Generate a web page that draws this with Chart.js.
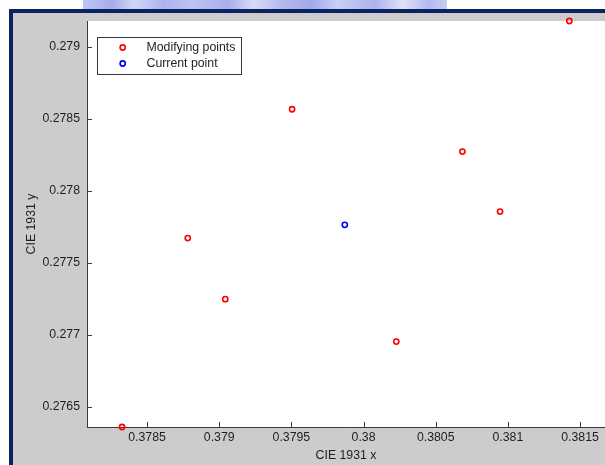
<!DOCTYPE html>
<html>
<head>
<meta charset="utf-8">
<script src="https://cdn.jsdelivr.net/npm/chart.js@4/dist/chart.umd.min.js"></script>
<style>
  html, body { margin: 0; padding: 0; background: #ffffff; overflow: hidden; }
  #stage { position: relative; width: 605px; height: 465px; overflow: hidden; }
  #band {
    position: absolute; left: 83px; top: 0; width: 364px; height: 9px;
    background: linear-gradient(90deg, #c0c6f2 0%, #a3adea 8%, #d2d7f7 14%, #abb4ed 22%, #bcc3f1 30%,
      #a7b0eb 40%, #d8dcf8 47%, #b0b8ee 55%, #a1abe9 63%, #cbd0f5 70%, #aab3ec 80%, #dfe2f9 88%, #b3baef 95%, #c8cdf4 100%);
    filter: blur(0.7px);
  }
  #frame {
    position: absolute; left: 9px; top: 9px; right: 0; bottom: 0;
    background: #cccccc; border-left: 4px solid #0b2362; border-top: 4px solid #0b2362;
  }
  canvas { position: absolute; left: 0; top: 0; }
</style>
</head>
<body>
<div id="stage">
  <div id="band"></div>
  <div id="frame"></div>
  <canvas id="c" width="605" height="465"></canvas>
</div>
<script>
// CIE 1931 chromaticity of the modifying points and the current point
const modifyingX = [0.378327, 0.378782, 0.379042, 0.379505, 0.380227, 0.380685, 0.380946, 0.381426];
const modifyingY = [0.276360, 0.277672, 0.277248, 0.278567, 0.276953, 0.278273, 0.277856, 0.279180];
const currentX = [0.379870];
const currentY = [0.277764];

const seriesNames = ['Modifying points', 'Current point'];
const xLimits = [0.378084, 0.381673];
const yLimits = [0.276360, 0.279180];
const tickStep = 0.0005;

const FONT = '"Liberation Sans", Arial, Helvetica, sans-serif';
const TEXT = '#1e1e1e';
const AXIS = '#3a3a3a';

const toPoints = (xs, ys) => xs.map((x, i) => ({ x, y: ys[i] }));

// white plot box behind the data
const plotBox = {
  id: 'plotBox',
  beforeDraw(chart) {
    const { ctx, chartArea: a } = chart;
    ctx.save();
    ctx.fillStyle = '#ffffff';
    ctx.fillRect(a.left, a.top, a.right - a.left, a.bottom - a.top);
    ctx.restore();
  }
};

// tick marks pointing into the plot box
const innerTicks = {
  id: 'innerTicks',
  afterDraw(chart) {
    const { ctx, chartArea: a, scales } = chart;
    const len = 5;
    ctx.save();
    ctx.strokeStyle = AXIS;
    ctx.lineWidth = 1;
    ctx.beginPath();
    scales.x.ticks.forEach((t, i) => {
      const px = Math.round(scales.x.getPixelForTick(i)) + 0.5;
      ctx.moveTo(px, a.bottom);
      ctx.lineTo(px, a.bottom - len);
    });
    scales.y.ticks.forEach((t, i) => {
      const py = Math.round(scales.y.getPixelForTick(i)) + 0.5;
      ctx.moveTo(a.left, py);
      ctx.lineTo(a.left + len, py);
    });
    ctx.stroke();
    ctx.restore();
  }
};

// boxed legend in the upper-left corner of the plot
const boxLegend = {
  id: 'boxLegend',
  afterDraw(chart) {
    const { ctx } = chart;
    const x0 = 97.5, y0 = 37.5, w = 144, h = 37;
    ctx.save();
    ctx.fillStyle = '#ffffff';
    ctx.fillRect(x0, y0, w, h);
    ctx.strokeStyle = AXIS;
    ctx.lineWidth = 1;
    ctx.strokeRect(x0, y0, w, h);
    ctx.font = '12.3px ' + FONT;
    ctx.textBaseline = 'middle';
    chart.data.datasets.forEach((ds, i) => {
      const cy = 47.5 + i * 16;
      ctx.beginPath();
      ctx.arc(122.7, cy, ds.pointRadius, 0, Math.PI * 2);
      ctx.strokeStyle = ds.pointBorderColor;
      ctx.lineWidth = ds.pointBorderWidth;
      ctx.stroke();
      ctx.fillStyle = TEXT;
      ctx.fillText(ds.label, 146.5, cy + 0.5);
    });
    ctx.restore();
  }
};

const fmt = v => String(+v.toFixed(4));

new Chart(document.getElementById('c'), {
  type: 'scatter',
  data: {
    datasets: [
      {
        label: seriesNames[0],
        data: toPoints(modifyingX, modifyingY),
        pointRadius: 2.6, pointHoverRadius: 2.6, pointBorderWidth: 1.6,
        pointBorderColor: '#ff0000', pointBackgroundColor: 'rgba(0,0,0,0)',
        clip: false
      },
      {
        label: seriesNames[1],
        data: toPoints(currentX, currentY),
        pointRadius: 2.6, pointHoverRadius: 2.6, pointBorderWidth: 1.6,
        pointBorderColor: '#0000ff', pointBackgroundColor: 'rgba(0,0,0,0)',
        clip: false
      }
    ]
  },
  options: {
    responsive: false,
    animation: false,
    events: [],
    layout: { autoPadding: false, padding: { top: 21, right: 0, left: 0, bottom: 0 } },
    plugins: { legend: { display: false }, tooltip: { enabled: false } },
    scales: {
      x: {
        type: 'linear', position: 'bottom',
        min: xLimits[0], max: xLimits[1],
        grid: { display: false, drawTicks: false },
        border: { display: true, color: AXIS, width: 1 },
        ticks: {
          stepSize: tickStep, includeBounds: false, maxRotation: 0, autoSkip: false,
          padding: 3.5, color: TEXT, font: { family: FONT, size: 12.3 },
          callback: fmt
        },
        title: {
          display: true, text: 'CIE 1931 x', color: TEXT,
          font: { family: FONT, size: 12.3 }, padding: { top: 0, bottom: 2 }
        },
        afterFit(s) { s.height = 38; }
      },
      y: {
        type: 'linear', position: 'left',
        min: yLimits[0], max: yLimits[1],
        grid: { display: false, drawTicks: false },
        border: { display: true, color: AXIS, width: 1 },
        ticks: {
          stepSize: tickStep, includeBounds: false, autoSkip: false,
          padding: 7, color: TEXT, font: { family: FONT, size: 12.3 },
          callback: fmt
        },
        title: {
          display: true, text: 'CIE 1931 y', color: TEXT,
          font: { family: FONT, size: 12.3 }, padding: { top: 24, bottom: 0 }
        },
        afterFit(s) { s.width = 87; }
      }
    }
  },
  plugins: [plotBox, innerTicks, boxLegend]
});
</script>
</body>
</html>
